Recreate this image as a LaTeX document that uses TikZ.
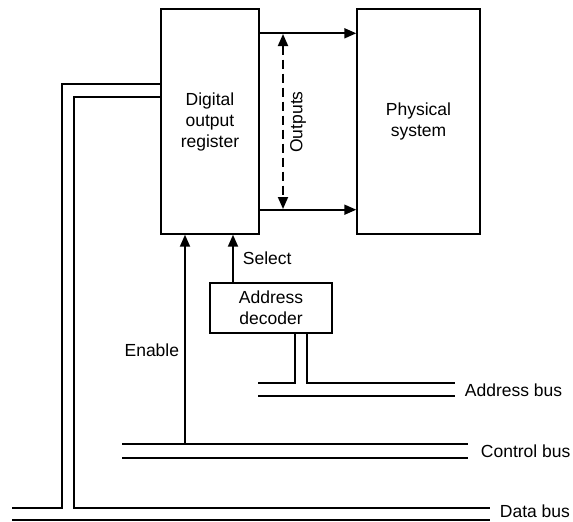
\documentclass[tikz,border=0pt]{standalone}
\usepackage{fontspec}
\setmainfont{Liberation Sans}
\usetikzlibrary{arrows.meta}
\begin{document}
\begin{tikzpicture}[x=1pt,y=-1pt, line width=1.8pt,
  box/.style={draw, line width=1.4pt, align=center, inner sep=0pt, font=\fontsize{17.5}{21}\selectfont},
  lbl/.style={font=\fontsize{17.5}{21}\selectfont, inner sep=0pt},
  arr/.style={-{Triangle[length=12pt,width=10pt]}},
  darr/.style={{Triangle[length=12pt,width=10pt]}-{Triangle[length=12pt,width=10pt]}, dash pattern=on 9pt off 5pt}]
\useasboundingbox (0,0) rectangle (573,522);
% boxes
\node[box, minimum width=98pt, minimum height=225pt] (reg) at (210,121.5) {Digital\\output\\register};
\node[box, minimum width=123pt, minimum height=225pt] (phys) at (418.5,121.5) {Physical\\system};
\node[box, minimum width=122pt, minimum height=50pt] (dec) at (271,308) {Address\\decoder};
% outputs
\draw[arr] ([yshift=-25pt]reg.north east) -- ([yshift=-25pt]phys.north west);
\draw[arr] ([yshift=25pt]reg.south east) -- ([yshift=25pt]phys.south west);
\coordinate (ot) at (283,34);
\coordinate (ob) at (283,209);
\draw[darr] (ot) -- (ob);
\node[lbl, rotate=90] (outl) at (298,122) {Outputs};
% select
\coordinate (sel) at (233,283);
\draw[arr] (sel) -- (sel |- reg.south);
\node[lbl, anchor=west] (sell) at (242,258) {Select};
% enable
\coordinate (en) at (185,444);
\draw[arr] (en) -- (en |- reg.south);
\node[lbl, anchor=east] (enl) at (180,350) {Enable};
% address bus
\coordinate (a1) at (258,383);
\coordinate (a2) at (455,383);
\coordinate (a3) at (258,396);
\coordinate (a4) at (455,396);
\draw (a1) -- (295,383) -- (295,333);
\draw (307,333) -- (307,383) -- (a2);
\draw (a3) -- (a4);
\node[lbl, anchor=west] (abl) at (464,390) {Address bus};
% control bus
\coordinate (c1) at (122,444);
\coordinate (c2) at (468,444);
\coordinate (c3) at (122,458);
\coordinate (c4) at (468,458);
\draw (c1) -- (c2);
\draw (c3) -- (c4);
\node[lbl, anchor=west] (cbl) at (480,451) {Control bus};
% data bus
\coordinate (d1) at (12,508);
\coordinate (d2) at (490,508);
\coordinate (d3) at (12,520);
\coordinate (d4) at (490,520);
\draw (reg.west |- 0,84) -- (62,84) -- (62,508) -- (d1);
\draw (reg.west |- 0,97) -- (74,97) -- (74,508) -- (d2);
\draw (d3) -- (d4);
\node[lbl, anchor=west] (dbl) at (499,511) {Data bus};
\end{tikzpicture}
\end{document}
